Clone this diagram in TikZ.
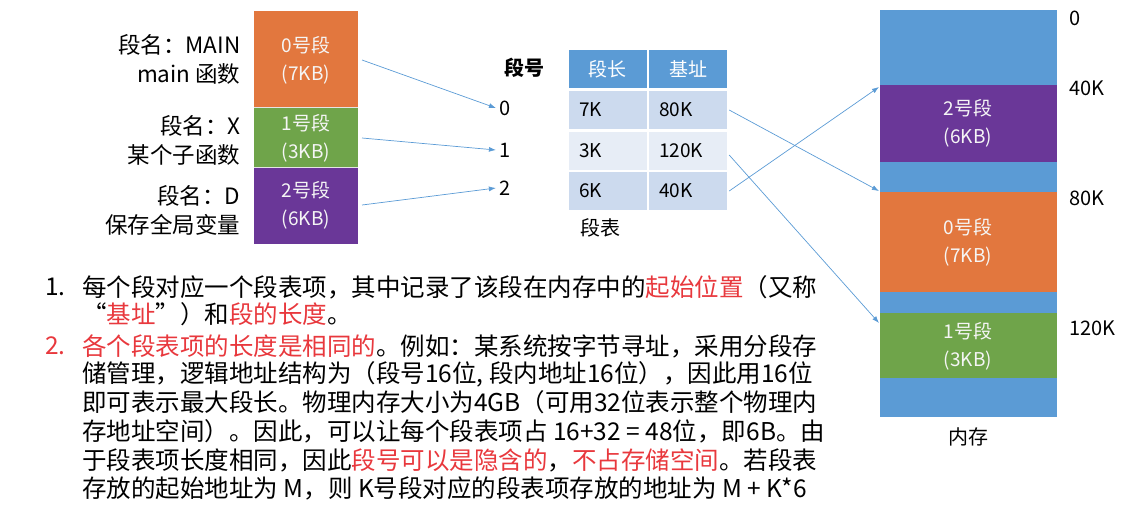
\documentclass[tikz,border=0pt]{standalone}
\usepackage{fontspec}
\setmainfont{Noto Sans CJK SC}
\usetikzlibrary{arrows.meta}
\definecolor{org}{HTML}{E2773E}
\definecolor{grn}{HTML}{6FA44A}
\definecolor{pur}{HTML}{6A3798}
\definecolor{blu}{HTML}{5B9BD5}
\definecolor{row1}{HTML}{CCDAEE}
\definecolor{row2}{HTML}{E7EDF6}
\definecolor{red1}{HTML}{E8383D}
\tikzset{
 segtxt/.style={text=white!92!gray,font=\fontsize{19}{28}\selectfont,align=center},
 lbl/.style={font=\fontsize{22.5}{29}\selectfont,align=right,anchor=east},
 big/.style={font=\fontsize{20}{24}\selectfont},
 txt/.style={font=\fontsize{24.5}{26}\selectfont,anchor=west,inner sep=0pt},
 conn/.style={draw=blu,line width=0.7pt,-{Latex[length=7pt,width=5pt]}},
 cell/.style={minimum width=78pt,minimum height=38pt,inner sep=0pt,font=\fontsize{19}{22}\selectfont,anchor=center}
}
\begin{document}
\begin{tikzpicture}[x=1pt,y=-1pt]
\useasboundingbox (0,0) rectangle (1129,507);
% left segments
\fill[org] (254,11) rectangle (358,107);
\fill[grn] (254,107) rectangle (358,167);
\fill[pur] (254,167) rectangle (358,244);
\draw[white!80!gray] (254,107)--(358,107) (254,167)--(358,167);
\node[segtxt] (s0) at (306,60) {0号段\\(7KB)};
\node[segtxt] (s1) at (306,138) {1号段\\(3KB)};
\node[segtxt] (s2) at (306,205) {2号段\\(6KB)};
\coordinate (e0) at (362,60);
\coordinate (e1) at (362,138);
\coordinate (e2) at (362,205);
\node[lbl] (l0) at (244,59) {段名：MAIN\\main 函数};
\node[lbl] (l1) at (244,140) {段名：X\\某个子函数};
\node[lbl] (l2) at (244,210) {段名：D\\保存全局变量};
% segment numbers
\node[font={\bfseries\fontsize{20}{24}\selectfont}] (dh) at (524,68) {段号};
\node[big] (n0) at (505,108) {0};
\node[big] (n1) at (505,150) {1};
\node[big] (n2) at (505,188) {2};
% table
\node[cell,fill=blu,text=white] (h1) at (607.5,69) {段长};
\node[cell,fill=blu,text=white] (h2) at (688,69) {基址};
\node[cell,fill=row1] (a1) at (607.5,110) {\hspace*{-34pt}7K};
\node[cell,fill=row1] (a2) at (688,110) {\hspace*{-24pt}80K};
\node[cell,fill=row2] (b1) at (607.5,151) {\hspace*{-34pt}3K};
\node[cell,fill=row2] (b2) at (688,151) {\hspace*{-14pt}120K};
\node[cell,fill=row1] (c1) at (607.5,191) {\hspace*{-34pt}6K};
\node[cell,fill=row1] (c2) at (688,191) {\hspace*{-24pt}40K};
\draw[white,line width=2.5pt] (568,89)--(728,89);
\draw[white,line width=1pt] (568,130)--(728,130) (568,171)--(728,171) (647.5,50)--(647.5,210);
\node[big] (dt) at (600,228) {段表};
% memory
\fill[blu] (880,10) rectangle (1057,85);
\fill[pur] (880,85) rectangle (1057,162);
\fill[blu] (880,162) rectangle (1057,192);
\fill[org] (880,192) rectangle (1057,292);
\fill[blu] (880,292) rectangle (1057,313);
\fill[grn] (880,313) rectangle (1057,378);
\fill[blu] (880,378) rectangle (1057,417);
\node[segtxt] (m2) at (968,123) {2号段\\(6KB)};
\node[segtxt] (m0) at (968,242) {0号段\\(7KB)};
\node[segtxt] (m1) at (968,346) {1号段\\(3KB)};
\coordinate (p40) at (879,87);
\coordinate (p80) at (879,191);
\coordinate (p120) at (879,323);
\node[big] (nc) at (968,437) {内存};
\node[big,anchor=west] (k0) at (1066,18) {0};
\node[big,anchor=west] (k40) at (1066,88) {40K};
\node[big,anchor=west] (k80) at (1066,198) {80K};
\node[big,anchor=west] (k120) at (1066,328) {120K};
% arrows
\draw[conn] (e0) -- (n0.west);
\draw[conn] (e1) -- (n1.west);
\draw[conn] (e2) -- (n2.west);
\draw[conn] (a2.east)++(2,0) -- (p80);
\draw[conn] (b2.east)++(2,4) -- (p120);
\draw[conn] (c2.east)++(2,0) -- (p40);
% text
\node[txt] (t1n) at (45,287) {1.};
\node[txt] (t1a) at (82,287) {每个段对应一个段表项，其中记录了该段在内存中的\textcolor{red1}{起始位置}（又称};
\node[txt] (t1b) at (82,314) {“\textcolor{red1}{基址}”）和\textcolor{red1}{段的长度}。};
\node[txt,text=red1] (t2n) at (45,346) {2.};
\node[txt] (t2a) at (82,346) {\textcolor{red1}{各个段表项的长度是相同的}。例如：某系统按字节寻址，采用分段存};
\node[txt] (t2b) at (82,374) {储管理，逻辑地址结构为（段号16位, 段内地址16位），因此用16位};
\node[txt] (t2c) at (82,402) {即可表示最大段长。物理内存大小为4GB（可用32位表示整个物理内};
\node[txt] (t2d) at (82,431) {存地址空间）。因此，可以让每个段表项占 16+32 = 48位，即6B。由};
\node[txt] (t2e) at (82,460) {于段表项长度相同，因此\textcolor{red1}{段号可以是隐含的}，\textcolor{red1}{不占存储空间}。若段表};
\node[txt] (t2f) at (82,488) {存放的起始地址为 M，则 K号段对应的段表项存放的地址为 M + K*6};
\end{tikzpicture}
\end{document}
